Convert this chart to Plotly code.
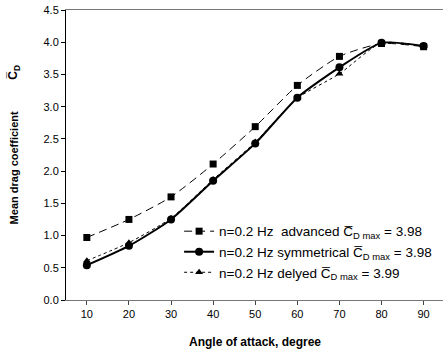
import plotly.graph_objects as go

angles = [10, 20, 30, 40, 50, 60, 70, 80, 90]
advanced = [0.97, 1.25, 1.60, 2.11, 2.69, 3.33, 3.78, 3.98, 3.93]
symmetrical = [0.54, 0.84, 1.25, 1.85, 2.43, 3.14, 3.61, 3.99, 3.94]
delayed = [0.61, 0.89, 1.27, 1.87, 2.45, 3.13, 3.51, 3.99, 3.94]

names = [
    "n=0.2 Hz  advanced C\u0305<sub>D max</sub> = 3.98",
    "n=0.2 Hz symmetrical C\u0305<sub>D max</sub> = 3.98",
    "n=0.2 Hz delyed C\u0305<sub>D max</sub> = 3.99",
]

fig = go.Figure()
fig.add_trace(go.Scatter(
    x=angles, y=advanced, name=names[0], mode="lines+markers",
    line=dict(color="black", width=1, dash="8px,5px", shape="spline", smoothing=0.6),
    marker=dict(symbol="square", size=7, color="black"),
))
fig.add_trace(go.Scatter(
    x=angles, y=symmetrical, name=names[1], mode="lines+markers",
    line=dict(color="black", width=2, shape="spline", smoothing=0.6),
    marker=dict(symbol="circle", size=8, color="black"),
))
fig.add_trace(go.Scatter(
    x=angles, y=delayed, name=names[2], mode="lines+markers",
    line=dict(color="black", width=1, dash="dot", shape="spline", smoothing=0.6),
    marker=dict(symbol="triangle-up", size=7, color="black"),
))

FAM = "Liberation Sans, Arial, sans-serif"
font = dict(family=FAM, size=11, color="black")

fig.update_layout(
    width=443, height=351,
    margin=dict(l=66, r=0, t=10, b=51),
    paper_bgcolor="white", plot_bgcolor="white",
    font=font,
    showlegend=True,
    legend=dict(x=0.30, y=0.29, xanchor="left", yanchor="top",
                bgcolor="rgba(0,0,0,0)", font=dict(size=13.5, family=FAM),
                tracegroupgap=0, itemwidth=30),
    xaxis=dict(range=[5.05, 94.6], tickvals=angles, showgrid=False, zeroline=False,
               showline=True, linecolor="#777", linewidth=1, mirror=True,
               ticks="outside", ticklen=4, tickcolor="#444", automargin=False),
    yaxis=dict(range=[0, 4.5], dtick=0.5, tickformat=".1f", showgrid=False, zeroline=False,
               showline=True, linecolor="black", linewidth=1, mirror=False,
               ticks="outside", ticklen=4, tickcolor="black", automargin=False),
)

fig.add_annotation(text="<b>Angle of attack, degree</b>",
                   xref="paper", yref="paper", x=0.5, y=-0.145,
                   xanchor="center", yanchor="middle", showarrow=False,
                   font=dict(size=12))
fig.add_annotation(text="<b>Mean drag coefficient</b>", textangle=-90,
                   xref="paper", yref="paper", x=-0.137, y=0.455,
                   xanchor="center", yanchor="middle", showarrow=False,
                   font=dict(size=11))
fig.add_annotation(text="<b>C\u0305<sub>D</sub></b>", textangle=-90,
                   xref="paper", yref="paper", x=-0.137, y=0.785,
                   xanchor="center", yanchor="middle", showarrow=False,
                   font=dict(size=12))

fig.write_html("out.html", config={"displayModeBar": False},
               post_script="document.body.style.margin='0';document.body.style.padding='0';")
